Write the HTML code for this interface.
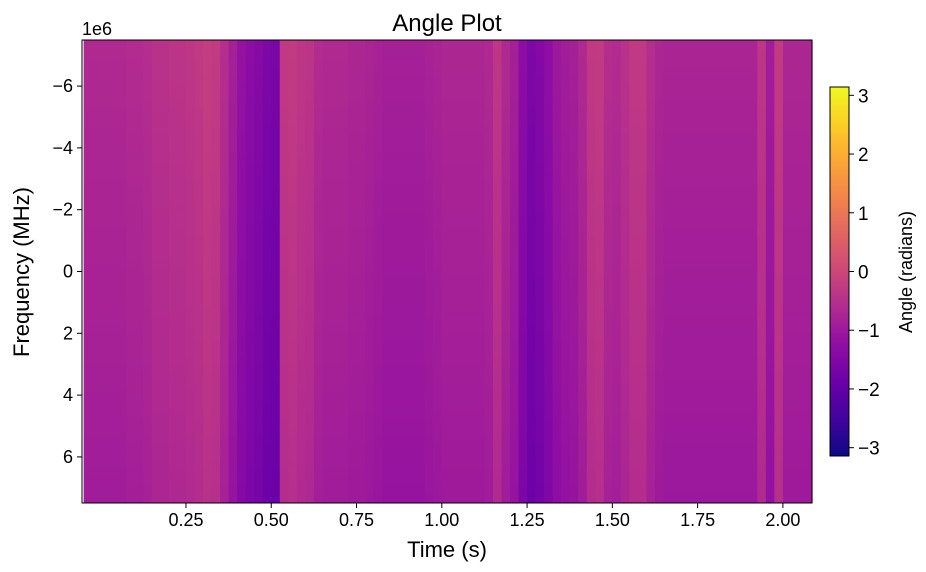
<!DOCTYPE html>
<html><head><meta charset="utf-8"><style>
body{margin:0;background:#fff;}
svg{display:block;font-family:"Liberation Sans","DejaVu Sans",sans-serif;}
</style></head><body>
<svg id="chart" width="926" height="572" viewBox="0 0 926 572">
<defs id="defs"></defs>
<g id="heat"></g>
<rect x="82" y="40" width="730" height="463" fill="none" stroke="#000" stroke-width="1"/>
<g id="axes"></g>
<text x="447" y="31" font-size="24" text-anchor="middle">Angle Plot</text>
<text x="82" y="35" font-size="18">1e6</text>
<text transform="translate(29,272) rotate(-90)" font-size="22" text-anchor="middle">Frequency (MHz)</text>
<text x="447" y="557" font-size="22" text-anchor="middle">Time (s)</text>
<g id="cbar"></g>
<text transform="translate(912,272) rotate(-90)" font-size="18" text-anchor="middle">Angle (radians)</text>
</svg>
<script>
const timeBinStart = -0.05;
const timeBinWidth = 0.025;
const columnAngles = [-0.8,-0.8,-0.8,-0.8,-0.8,-0.75,-0.75,-0.7,-0.6,-0.6,-0.55,-0.55,-0.5,-0.45,-0.35,-0.4,-0.7,-1.0,-1.3,-1.45,-1.55,-1.7,-1.75,-0.45,-0.4,-0.5,-0.55,-0.75,-0.8,-0.8,-0.8,-0.85,-0.85,-0.9,-0.95,-1.0,-1.0,-1.0,-1.0,-1.0,-0.95,-0.9,-0.85,-0.85,-0.85,-0.85,-0.85,-0.8,-0.5,-0.8,-1.0,-1.45,-1.7,-1.6,-1.4,-1.15,-1.05,-1.0,-0.8,-0.45,-0.4,-0.7,-0.75,-0.6,-0.45,-0.45,-0.7,-0.85,-0.9,-0.9,-0.9,-0.9,-0.9,-0.9,-0.9,-0.9,-0.9,-0.9,-0.9,-0.5,-1.05,-0.4,-0.85,-0.85,-0.85,-0.85];
const freqOffsets = [0.15,0.12,0.08,0.05,0.02,0,-0.03,-0.06,-0.1,-0.13];
const xTicks = [0.25,0.5,0.75,1.0,1.25,1.5,1.75,2.0];
const xTickLabels = ["0.25","0.50","0.75","1.00","1.25","1.50","1.75","2.00"];
const yTicks = [-6,-4,-2,0,2,4,6];
const yTickLabels = ["\u22126","\u22124","\u22122","0","2","4","6"];
const cTicks = [-3,-2,-1,0,1,2,3];
const cTickLabels = ["\u22123","\u22122","\u22121","0","1","2","3"];

const NS="http://www.w3.org/2000/svg";
const X0=82,X1=812,Y0=40,Y1=503;
const xScale=t=>100.7+t*341.1;
const yScale=f=>271.5+f*30.9;
const cScale=v=>271.5-v*(184.5/Math.PI);
const plasma=["#0d0887","#41049d","#6a00a8","#8f0da4","#b12a90","#cc4778","#e16462","#f2844b","#fca636","#fcce25","#f0f921"];
function hex(h){return [1,3,5].map(i=>parseInt(h.substr(i,2),16));}
function cmap(v){let n=(v+Math.PI)/(2*Math.PI);n=Math.max(0,Math.min(1,n))*10;const i=Math.min(9,Math.floor(n)),f=n-i;const a=hex(plasma[i]),b=hex(plasma[i+1]);return "rgb("+a.map((c,k)=>Math.round(c+(b[k]-c)*f)).join(",")+")";}
function el(tag,attrs,parent){const e=document.createElementNS(NS,tag);for(const k in attrs)e.setAttribute(k,attrs[k]);parent.appendChild(e);return e;}
const defs=document.getElementById('defs'),heat=document.getElementById('heat'),axes=document.getElementById('axes'),cbar=document.getElementById('cbar');
columnAngles.forEach((v,i)=>{
  const g=el('linearGradient',{id:'g'+i,x1:0,y1:0,x2:0,y2:1},defs);
  freqOffsets.forEach((o,j)=>{el('stop',{offset:(j/(freqOffsets.length-1)),'stop-color':cmap(v+o)},g);});
  let xa=Math.max(X0,xScale(timeBinStart+i*timeBinWidth)),xb=Math.min(X1,xScale(timeBinStart+(i+1)*timeBinWidth));
  if(xb<=xa)return;
  const r=el('rect',{x:xa,y:Y0,width:xb-xa+0.6,height:Y1-Y0,fill:'url(#g'+i+')'},heat);
  
  
});
xTicks.forEach((t,i)=>{const x=xScale(t);
  el('line',{x1:x,x2:x,y1:Y1,y2:Y1+5,stroke:'#000'},axes);
  const tx=el('text',{x:x,y:Y1+23,'font-size':18,'text-anchor':'middle'},axes);tx.textContent=xTickLabels[i];
  
  
});
yTicks.forEach((f,i)=>{const y=yScale(f);
  el('line',{x1:X0-5,x2:X0,y1:y,y2:y,stroke:'#000'},axes);
  const tx=el('text',{x:X0-9,y:y+6,'font-size':18,'text-anchor':'end'},axes);tx.textContent=yTickLabels[i];
  
  
});
const cg=el('linearGradient',{id:'cg',x1:0,y1:1,x2:0,y2:0},defs);
plasma.forEach((c,i)=>el('stop',{offset:i/10,'stop-color':c},cg));
el('rect',{x:830,y:87,width:19,height:369,fill:'url(#cg)',stroke:'#000','stroke-width':1},cbar);
cTicks.forEach((v,i)=>{const y=cScale(v);
  el('line',{x1:849,x2:854,y1:y,y2:y,stroke:'#000'},cbar);
  const tx=el('text',{x:858,y:y+7,'font-size':19},cbar);tx.textContent=cTickLabels[i];
  
  
});
</script>
</body></html>
